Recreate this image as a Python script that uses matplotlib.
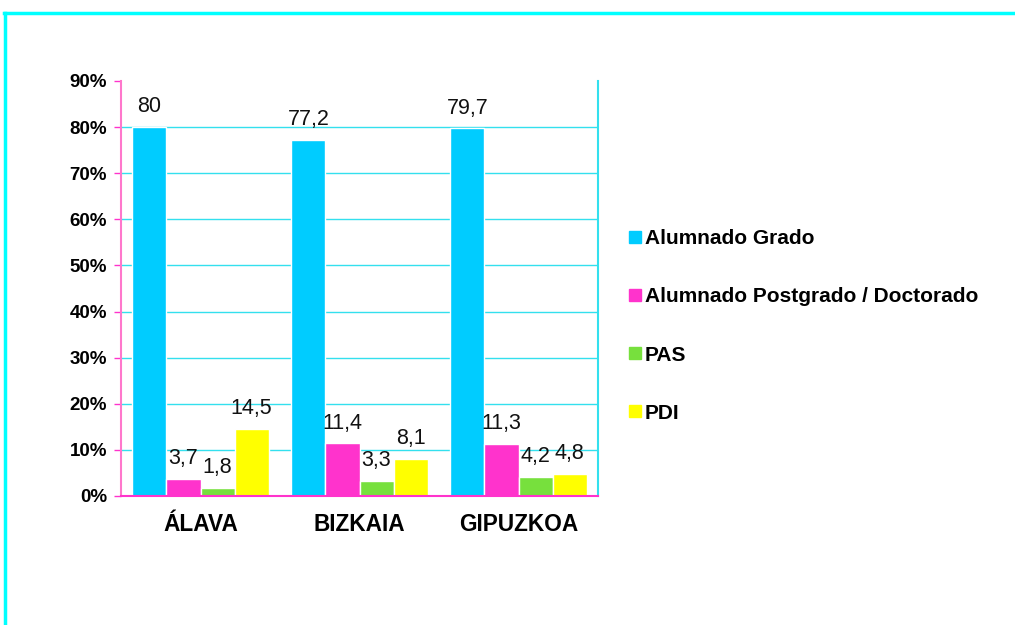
import matplotlib
matplotlib.use("Agg")
import matplotlib.pyplot as plt
import numpy as np
from matplotlib.lines import Line2D

plt.rcParams['font.family'] = ['Liberation Sans', 'DejaVu Sans']

categories = ["ÁLAVA", "BIZKAIA", "GIPUZKOA"]
series = ["Alumnado Grado", "Alumnado Postgrado / Doctorado", "PAS", "PDI"]
values = {
    "Alumnado Grado": [80, 77.2, 79.7],
    "Alumnado Postgrado / Doctorado": [3.7, 11.4, 11.3],
    "PAS": [1.8, 3.3, 4.2],
    "PDI": [14.5, 8.1, 4.8],
}
colors = ["#00CCFF", "#FF33CC", "#77E03D", "#FFFF00"]
yticks = [0, 10, 20, 30, 40, 50, 60, 70, 80, 90]

fig = plt.figure(figsize=(10.15, 6.25), dpi=100)
ax = fig.add_axes([121/1015, 1-496/625, 477/1015, 415/625])

x = np.arange(len(categories))
w = 0.214
offsets = (np.arange(4) - 1.5) * w
for i, s in enumerate(series):
    vals = values[s]
    bars = ax.bar(x + offsets[i], vals, width=w, color=colors[i],
                  edgecolor="white", linewidth=1, zorder=3)
    for b, v in zip(bars, vals):
        ax.annotate(f"{v:g}".replace(".", ","), (b.get_x() + b.get_width()/2, v),
                    xytext=(0, 7), textcoords="offset points",
                    ha="center", va="bottom", fontsize=15.5, color="#111111")

ax.set_xlim(-0.5, 2.5)
ax.set_ylim(0, 90)
ax.set_yticks(yticks)
ax.set_yticklabels([f"{t}%" for t in yticks], fontsize=13.5, fontweight="bold")
ax.set_xticks(x)
ax.set_xticklabels(categories, fontsize=16.3, fontweight="bold")
ax.tick_params(axis="x", length=0, pad=12)
ax.tick_params(axis="y", length=5, color="#FF33CC", width=1, pad=5)
for t in yticks[1:-1]:
    ax.axhline(t, color="#33E0EE", linewidth=1, zorder=1)
ax.spines["top"].set_visible(False)
ax.spines["left"].set_color("#FF77CC")
ax.spines["bottom"].set_color("#FF33CC")
ax.spines["right"].set_color("#33E0EE")
for sp in ax.spines.values():
    sp.set_linewidth(1.5)
    sp.set_zorder(5)

handles = [Line2D([], [], marker="s", linestyle="", markersize=9, color=c) for c in colors]
fig.legend(handles, series, loc="center left",
           bbox_to_anchor=(620/1015, 1-326/625), frameon=False,
           prop={"size": 15, "weight": "bold"}, handlelength=0.6,
           handletextpad=0.2, labelspacing=1.88, borderaxespad=0)

# outer frame lines
fig.add_artist(Line2D([4/1015, 1], [1-13/625, 1-13/625], color="#00FFFF", linewidth=2.5))
fig.add_artist(Line2D([5/1015, 5/1015], [0, 1-13/625], color="#00FFFF", linewidth=2.5))

fig.savefig("out.png", dpi=100)
